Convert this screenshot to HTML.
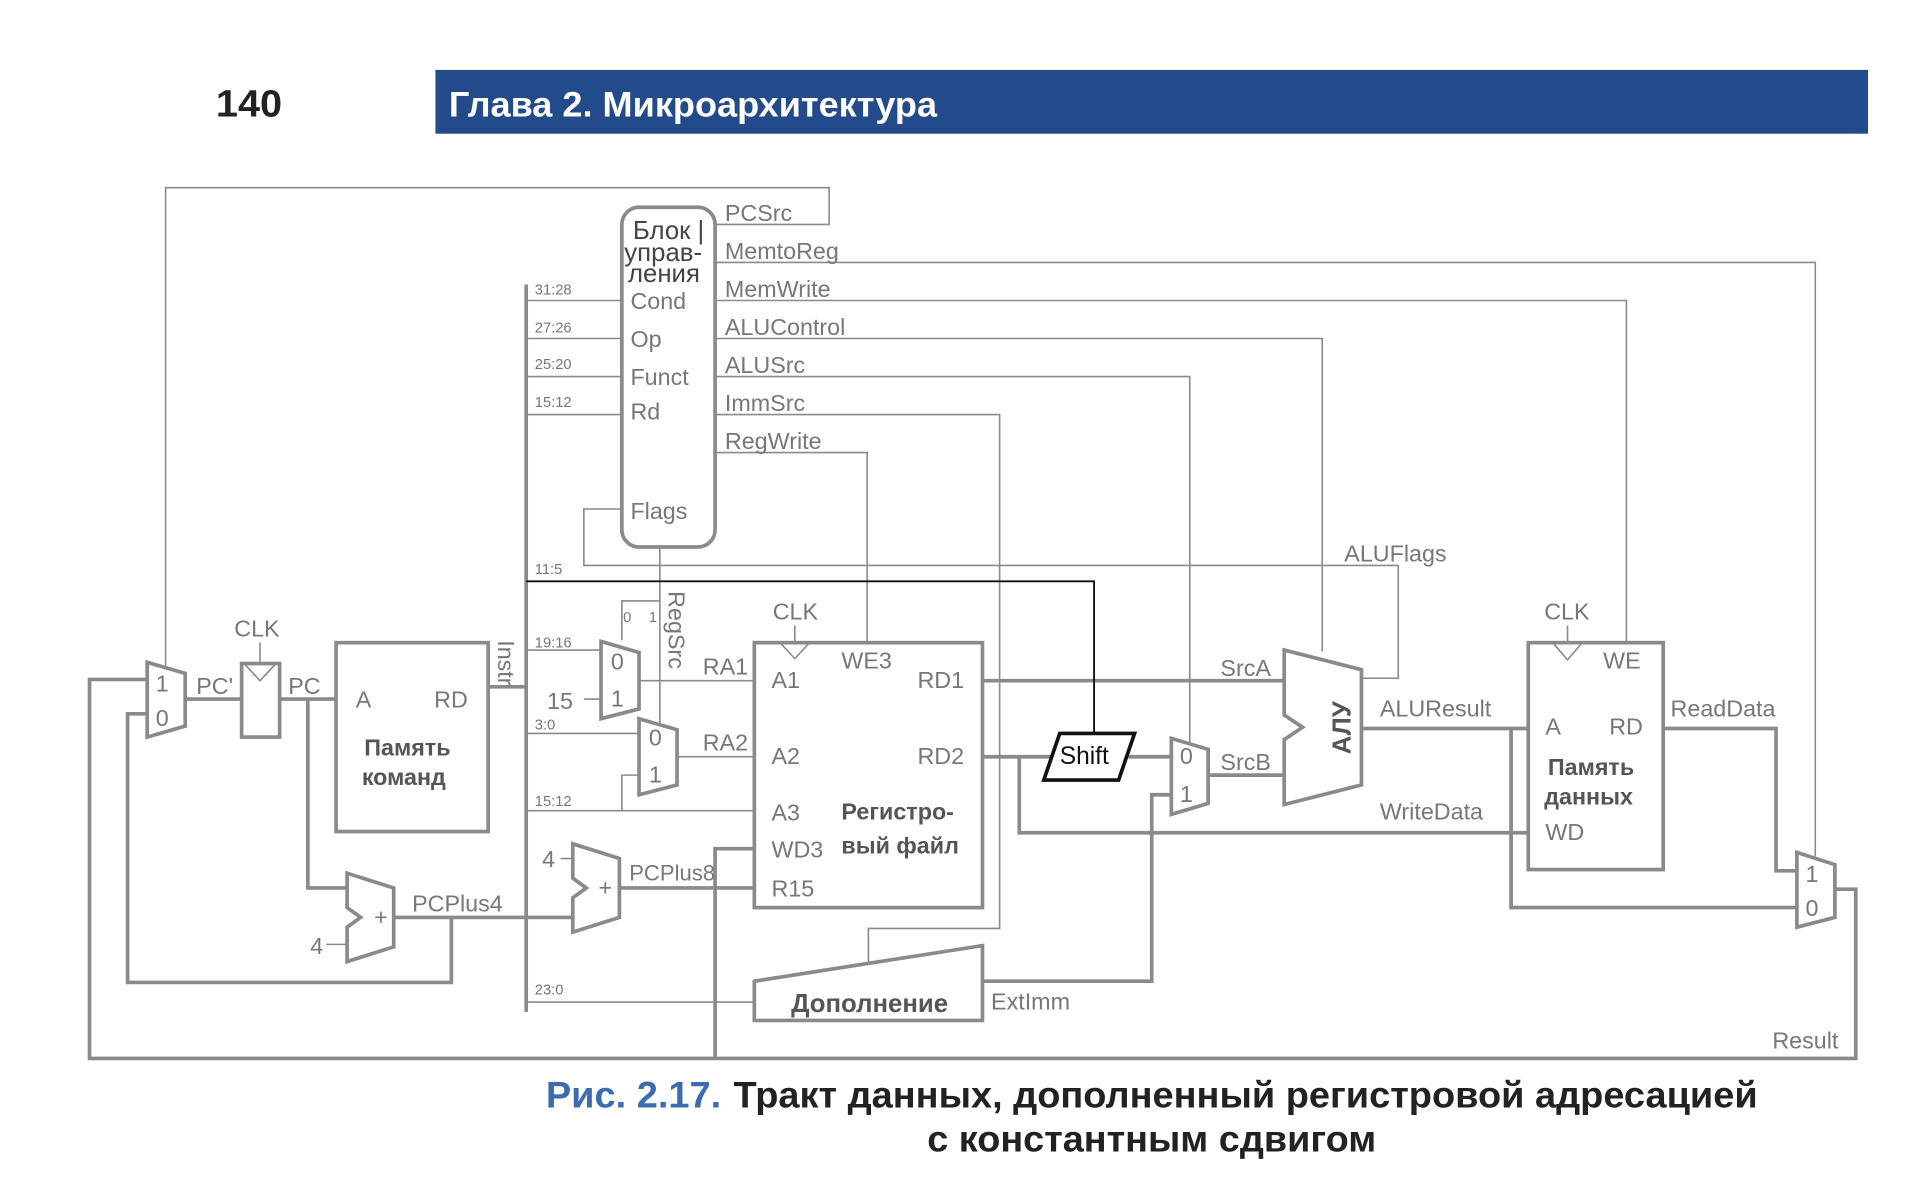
<!DOCTYPE html>
<html><head><meta charset="utf-8"><style>
html,body{margin:0;padding:0;background:#fff;}
svg{display:block;}
text{font-family:"Liberation Sans","DejaVu Sans",sans-serif;}
</style></head><body>
<svg width="1922" height="1186" viewBox="0 0 1567 967" preserveAspectRatio="none" xmlns="http://www.w3.org/2000/svg">
<rect x="0" y="0" width="1567" height="967" fill="#fff"/>
<!-- header -->
<text x="176" y="95" font-size="31" font-weight="bold" fill="#222" textLength="54" lengthAdjust="spacingAndGlyphs">140</text>
<rect x="355" y="57" width="1168" height="52" fill="#234a8a"/>
<text x="366" y="95" font-size="29" font-weight="bold" fill="#fff" textLength="398" lengthAdjust="spacingAndGlyphs">Глава 2. Микроархитектура</text>

<g fill="none" stroke="#8a8a8a" stroke-width="1.3">
<polyline points="583,183 676,183 676,153 135,153 135,543"/>
<polyline points="583,214 1480,214 1480,698"/>
<polyline points="583,245 1326,245 1326,524"/>
<polyline points="583,276 1078,276 1078,531"/>
<polyline points="583,307 970,307 970,606"/>
<polyline points="583,338 815,338 815,757 708,757 708,785"/>
<polyline points="583,369 707,369 707,524"/>
<line x1="429" y1="245" x2="507" y2="245"/>
<line x1="429" y1="276" x2="507" y2="276"/>
<line x1="429" y1="307" x2="507" y2="307"/>
<line x1="429" y1="338" x2="507" y2="338"/>
<polyline points="507,415 476,415 476,461 1140,461 1140,553 1110,553"/>
<polyline points="538,446 538,590"/>
<polyline points="538,490 507,490 507,522"/>
<line x1="429" y1="530" x2="490" y2="530"/>
<line x1="476" y1="570" x2="490" y2="570"/>
<line x1="429" y1="598" x2="521" y2="598"/>
<polyline points="429,661 615,661"/>
<polyline points="507,661 507,632 521,632"/>
<line x1="521" y1="555" x2="615" y2="555"/>
<line x1="552" y1="617" x2="615" y2="617"/>
<line x1="429" y1="817" x2="615" y2="817"/>
<line x1="648" y1="510" x2="648" y2="524"/>
<line x1="1278" y1="510" x2="1278" y2="524"/>
<line x1="212" y1="524" x2="212" y2="541"/>
<line x1="457" y1="700" x2="467" y2="700"/>
<line x1="266" y1="770" x2="283" y2="770"/>
<polyline points="636,524 648,537 660,524"/>
<polyline points="1266,524 1278,538 1290,524"/>
<polyline points="199,541 212,555 225,541"/>
</g>

<g fill="none" stroke="#8a8a8a" stroke-width="3">
<line x1="429" y1="232" x2="429" y2="825"/>
<line x1="398" y1="560" x2="429" y2="560"/>
<line x1="151" y1="570" x2="197" y2="570"/>
<line x1="228" y1="570" x2="274" y2="570"/>
<polyline points="251,570 251,724 283,724"/>
<line x1="321" y1="748" x2="467" y2="748"/>
<polyline points="368,748 368,801 104,801 104,582 120,582"/>
<line x1="505" y1="724" x2="615" y2="724"/>
<polyline points="615,692 583,692 583,863"/>
<polyline points="1496,725 1513,725 1513,863 73,863 73,554 120,554"/>
<line x1="801" y1="555" x2="1047" y2="555"/>
<line x1="801" y1="617" x2="858" y2="617"/>
<polyline points="831,617 831,679 1245,679"/>
<line x1="920" y1="617" x2="955" y2="617"/>
<polyline points="801,800 939,800 939,648 955,648"/>
<line x1="985" y1="632" x2="1047" y2="632"/>
<line x1="1110" y1="594" x2="1245" y2="594"/>
<polyline points="1232,594 1232,740 1465,740"/>
<polyline points="1356,594 1448,594 1448,710 1465,710"/>
<rect x="197" y="541" width="31" height="60"/>
<rect x="274" y="524" width="124" height="154"/>
<rect x="615" y="524" width="186" height="216"/>
<rect x="1246" y="524" width="110" height="185"/>
<polygon points="120,540 151,549 151,592 120,601"/>
<polygon points="490,523 521,532 521,578 490,586"/>
<polygon points="521,586 552,595 552,640 521,648"/>
<polygon points="955,602 985,611 985,655 955,664"/>
<polygon points="1465,695 1496,705 1496,748 1465,756"/>
<polygon points="1047,530 1110,546 1110,640 1047,656 1047,603 1062,593 1047,583"/>
<polygon points="283,712 321,724 321,772 283,784 283,756 294,748 283,740"/>
<polygon points="467,688 505,700 505,748 467,760 467,732 478,724 467,716"/>
<polygon points="615,800 801,771 801,832 615,832"/>
<rect x="507" y="169" width="76" height="277" rx="14"/>
</g>

<polyline points="429,474 892,474 892,598" fill="none" stroke="#111" stroke-width="1.5"/>
<polygon points="864,598 925,598 912,636 851,636" fill="#fff" stroke="#111" stroke-width="3"/>
<text x="864" y="623" font-size="20" fill="#111">Shift</text>

<g fill="#777" font-size="19">
<text x="516" y="195" fill="#444" font-size="21">Блок |</text>
<text x="509" y="213" fill="#444" font-size="21">управ-</text>
<text x="512" y="230" fill="#444" font-size="21">ления</text>
<text x="514" y="252">Cond</text>
<text x="514" y="283">Op</text>
<text x="514" y="314">Funct</text>
<text x="514" y="342">Rd</text>
<text x="514" y="423">Flags</text>
<text x="591" y="180">PCSrc</text>
<text x="591" y="211">MemtoReg</text>
<text x="591" y="242">MemWrite</text>
<text x="591" y="273">ALUControl</text>
<text x="591" y="304">ALUSrc</text>
<text x="591" y="335">ImmSrc</text>
<text x="591" y="366">RegWrite</text>
<text x="1096" y="458">ALUFlags</text>
<g font-size="12"><text x="436" y="240">31:28</text><text x="436" y="271">27:26</text><text x="436" y="301">25:20</text><text x="436" y="332">15:12</text><text x="436" y="468">11:5</text><text x="436" y="528">19:16</text><text x="436" y="595">3:0</text><text x="436" y="657">15:12</text><text x="436" y="811">23:0</text><text x="508" y="507">0</text><text x="529" y="507">1</text></g>
<text x="446" y="578">15</text>
<text transform="translate(545,482) rotate(90)">RegSrc</text>
<text transform="translate(406,522) rotate(90)">Instr</text>
<text x="498" y="546">0</text><text x="498" y="576">1</text>
<text x="529" y="608">0</text><text x="529" y="638">1</text>
<text x="573" y="550">RA1</text>
<text x="573" y="612">RA2</text>
<text x="630" y="505">CLK</text>
<text x="686" y="545">WE3</text>
<text x="629" y="561">A1</text>
<text x="629" y="623">A2</text>
<text x="629" y="669">A3</text>
<text x="629" y="699">WD3</text>
<text x="629" y="731">R15</text>
<text x="748" y="561">RD1</text>
<text x="748" y="623">RD2</text>
<text x="686" y="668" font-weight="bold" fill="#555">Регистро-</text>
<text x="686" y="696" font-weight="bold" fill="#555">вый файл</text>
<text x="995" y="551">SrcA</text>
<text x="995" y="628">SrcB</text>
<text x="962" y="623">0</text><text x="962" y="654">1</text>
<text transform="translate(1101,615) rotate(-90)" font-weight="bold" fill="#555" font-size="21">АЛУ</text>
<text x="1125" y="584">ALUResult</text>
<text x="1125" y="668">WriteData</text>
<text x="1259" y="505">CLK</text>
<text x="1307" y="545">WE</text>
<text x="1260" y="599">A</text>
<text x="1312" y="599">RD</text>
<text x="1262" y="632" font-weight="bold" fill="#555">Память</text>
<text x="1259" y="656" font-weight="bold" fill="#555">данных</text>
<text x="1260" y="685">WD</text>
<text x="1362" y="584">ReadData</text>
<text x="1472" y="719">1</text><text x="1472" y="747">0</text>
<text x="1445" y="855">Result</text>
<text x="808" y="823">ExtImm</text>
<text x="645" y="825" font-weight="bold" fill="#555" font-size="21">Дополнение</text>
<text x="127" y="564">1</text><text x="127" y="592">0</text>
<text x="160" y="566">PC'</text>
<text x="235" y="566">PC</text>
<text x="191" y="519">CLK</text>
<text x="290" y="577">A</text>
<text x="354" y="577">RD</text>
<text x="297" y="616" font-weight="bold" fill="#555">Память</text>
<text x="295" y="640" font-weight="bold" fill="#555">команд</text>
<text x="305" y="754">+</text>
<text x="488" y="730">+</text>
<text x="253" y="778">4</text>
<text x="442" y="707">4</text>
<text x="336" y="743">PCPlus4</text>
<text x="513" y="718" font-size="18">PCPlus8</text>
</g>

<text x="445" y="903" font-size="30" font-weight="bold" fill="#3b6bb0" textLength="143" lengthAdjust="spacingAndGlyphs">Рис. 2.17.</text>
<text x="598" y="903" font-size="30" font-weight="bold" fill="#222" textLength="835" lengthAdjust="spacingAndGlyphs">Тракт данных, дополненный регистровой адресацией</text>
<text x="756" y="939" font-size="30" font-weight="bold" fill="#222" textLength="366" lengthAdjust="spacingAndGlyphs">с константным сдвигом</text>
</svg>
</body></html>
